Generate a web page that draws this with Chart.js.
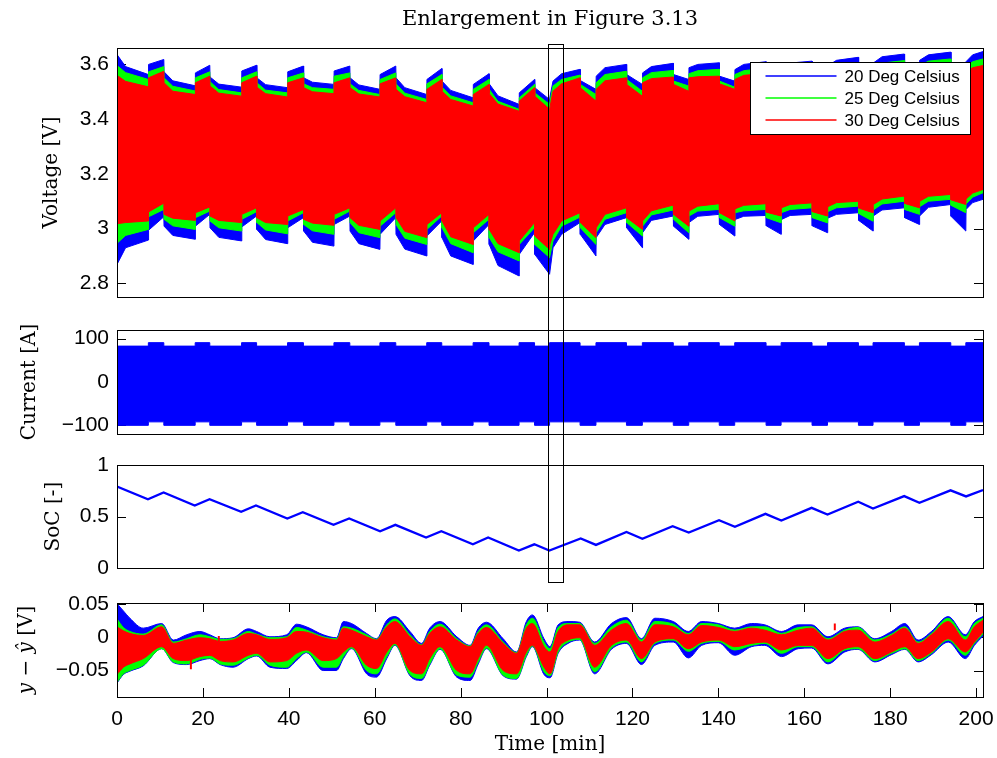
<!DOCTYPE html>
<html>
<head>
<meta charset="utf-8">
<script src="https://cdn.jsdelivr.net/npm/chart.js@4.4.1/dist/chart.umd.min.js"></script>
<style>
  html, body { margin: 0; padding: 0; background: #fff; }
  body { width: 997px; height: 758px; position: relative; overflow: hidden; }
  canvas { position: absolute; left: 0; }
</style>
</head>
<body>
<canvas id="volt" width="997" height="300" style="top:0px"></canvas>
<canvas id="curr" width="997" height="124" style="top:316px"></canvas>
<canvas id="soc" width="997" height="131" style="top:451px"></canvas>
<canvas id="err" width="997" height="169" style="top:589px"></canvas>
<canvas id="overlay" width="997" height="758" style="top:0px; pointer-events:none"></canvas>
<script>
const BLUE = '#0000ff', GREEN = '#00ff00', RED = '#ff0000';
const SANS = '"Liberation Sans", Arial, sans-serif';
const SERIF = '"DejaVu Serif", serif';

// ---- axis ticks / labels ----
const timeTicks = [0, 20, 40, 60, 80, 100, 120, 140, 160, 180, 200];
const timeTickLabels = ['0', '20', '40', '60', '80', '100', '120', '140', '160', '180', '200'];
const voltTicks = [2.8, 3, 3.2, 3.4, 3.6];
const voltTickLabels = ['2.8', '3', '3.2', '3.4', '3.6'];
const currTicks = [-100, 0, 100];
const currTickLabels = ['\u2212100', '0', '100'];
const socTicks = [0, 0.5, 1];
const socTickLabels = ['0', '0.5', '1'];
const errTicks = [-0.05, 0, 0.05];
const errTickLabels = ['\u22120.05', '0', '0.05'];
const seriesNames = ['20 Deg Celsius', '25 Deg Celsius', '30 Deg Celsius'];
const enlargeFrom = 100.3, enlargeTo = 103.8;   // min, the boxed window

// ---- voltage envelopes (top / bottom of the fast oscillation) ----
const voltTime = [
  0, 2, 7.3,   7.35, 10.9,   10.95, 13, 18.2,   18.25, 21.6,
  21.65, 23.7, 29.0,   29.05, 32.5,   32.55, 34.6, 39.7,   39.75, 43.4,
  43.45, 45.5, 50.5,   50.55, 54.2,   54.25, 56.3, 61.2,   61.25, 64.9,
  64.95, 67, 72.1,   72.15, 75.6,   75.65, 77.7, 82.9,   82.95, 86.6,
  86.65, 88.7, 93.6,   93.65, 97.2,   97.25, 100.7,
  100.75, 101.5, 103.5, 107.8,   107.85, 111.5,
  111.55, 113.6, 118.6,   118.65, 122.3,   122.35, 124.4, 129.5,   129.55, 133.1,
  133.15, 135.2, 140.2,   140.25, 143.8,   143.85, 145.9, 151.1,   151.15, 154.6,
  154.65, 156.7, 161.8,   161.85, 165.4,   165.45, 167.5, 172.6,   172.65, 176.0,
  176.05, 178.1, 183.3,   183.35, 186.8,   186.85, 188.9, 194.1,   194.15, 197.6,
  197.65, 199.2, 201.6
];
const v20Top = [
  3.636, 3.592, 3.563,   3.600, 3.618,   3.573, 3.540, 3.522,   3.569, 3.597,
  3.554, 3.528, 3.517,   3.576, 3.597,   3.551, 3.526, 3.515,   3.573, 3.594,
  3.551, 3.535, 3.527,   3.576, 3.594,   3.551, 3.525, 3.509,   3.563, 3.594,
  3.551, 3.515, 3.490,   3.545, 3.585,   3.539, 3.505, 3.478,   3.527, 3.566,
  3.529, 3.485, 3.454,   3.496, 3.545,   3.515, 3.472,
  3.478, 3.539, 3.566, 3.582,   3.541, 3.509,
  3.557, 3.588, 3.600,   3.563, 3.527,   3.569, 3.592, 3.604,   3.563, 3.545,
  3.588, 3.600, 3.606,   3.557, 3.539,   3.581, 3.600, 3.610,   3.570, 3.552,
  3.590, 3.605, 3.612,   3.572, 3.555,   3.595, 3.615, 3.626,   3.585, 3.565,
  3.605, 3.628, 3.638,   3.595, 3.575,   3.615, 3.635, 3.645,   3.600, 3.580,
  3.610, 3.635, 3.647
];
const v25Top = [
  3.596, 3.570, 3.545,   3.573, 3.592,   3.551, 3.520, 3.503,   3.551, 3.573,
  3.537, 3.508, 3.496,   3.551, 3.573,   3.533, 3.506, 3.496,   3.551, 3.569,
  3.529, 3.515, 3.509,   3.557, 3.569,   3.529, 3.505, 3.490,   3.545, 3.569,
  3.529, 3.495, 3.472,   3.529, 3.563,   3.517, 3.485, 3.460,   3.509, 3.545,
  3.509, 3.465, 3.436,   3.478, 3.527,   3.496, 3.454,
  3.460, 3.521, 3.545, 3.561,   3.527, 3.490,
  3.533, 3.563, 3.575,   3.545, 3.502,   3.551, 3.570, 3.578,   3.539, 3.521,
  3.566, 3.577, 3.582,   3.539, 3.517,   3.563, 3.577, 3.587,   3.550, 3.532,
  3.570, 3.583, 3.590,   3.552, 3.535,   3.575, 3.592, 3.602,   3.565, 3.545,
  3.585, 3.605, 3.614,   3.575, 3.555,   3.595, 3.612, 3.620,   3.580, 3.560,
  3.590, 3.610, 3.620
];
const v30Top = [
  3.560, 3.538, 3.518,   3.551, 3.575,   3.533, 3.502, 3.490,   3.533, 3.557,
  3.521, 3.495, 3.484,   3.533, 3.557,   3.517, 3.493, 3.481,   3.533, 3.551,
  3.515, 3.500, 3.493,   3.533, 3.551,   3.515, 3.492, 3.481,   3.529, 3.551,
  3.509, 3.482, 3.460,   3.509, 3.545,   3.502, 3.472, 3.448,   3.490, 3.527,
  3.493, 3.455, 3.429,   3.466, 3.515,   3.484, 3.436,
  3.436, 3.502, 3.529, 3.551,   3.515, 3.466,
  3.509, 3.540, 3.551,   3.527, 3.484,   3.533, 3.548, 3.554,   3.527, 3.502,
  3.551, 3.555, 3.557,   3.529, 3.509,   3.545, 3.560, 3.567,   3.532, 3.515,
  3.552, 3.565, 3.572,   3.535, 3.518,   3.558, 3.575, 3.582,   3.548, 3.528,
  3.566, 3.585, 3.592,   3.556, 3.538,   3.575, 3.590, 3.597,   3.562, 3.545,
  3.570, 3.588, 3.596
];
const v30Bot = [
  3.018, 3.022, 3.028,   3.061, 3.093,   3.052, 3.038, 3.030,   3.058, 3.079,
  3.046, 3.030, 3.022,   3.052, 3.076,   3.040, 3.022, 3.015,   3.046, 3.070,
  3.034, 3.020, 3.012,   3.052, 3.076,   3.040, 3.012, 2.997,   3.028, 3.076,
  3.040, 2.990, 2.967,   3.015, 3.058,   3.028, 2.970, 2.942,   3.003, 3.052,
  2.997, 2.945, 2.912,   2.955, 3.022,   2.973, 2.924,
  2.942, 2.979, 3.028, 3.058,   3.022, 2.967,
  3.003, 3.052, 3.076,   3.040, 2.997,   3.028, 3.065, 3.086,   3.052, 3.009,
  3.064, 3.082, 3.091,   3.058, 3.028,   3.072, 3.085, 3.091,   3.060, 3.046,
  3.076, 3.088, 3.094,   3.062, 3.046,   3.080, 3.095, 3.100,   3.075, 3.058,
  3.088, 3.108, 3.119,   3.092, 3.076,   3.100, 3.118, 3.125,   3.105, 3.088,
  3.108, 3.130, 3.143
];
const v25Bot = [
  2.946, 2.975, 2.997,   3.043, 3.070,   3.034, 3.010, 2.997,   3.040, 3.064,
  3.028, 3.003, 2.991,   3.034, 3.062,   3.022, 2.995, 2.981,   3.028, 3.058,
  3.015, 2.992, 2.979,   3.034, 3.064,   3.022, 2.985, 2.967,   3.009, 3.058,
  3.015, 2.965, 2.942,   2.997, 3.046,   3.003, 2.945, 2.912,   2.985, 3.034,
  2.967, 2.915, 2.882,   2.942, 3.003,   2.942, 2.894,
  2.894, 2.955, 3.009, 3.042,   3.003, 2.942,
  2.985, 3.034, 3.058,   3.022, 2.973,   3.009, 3.050, 3.068,   3.034, 2.985,
  3.046, 3.064, 3.070,   3.040, 3.009,   3.058, 3.065, 3.070,   3.040, 3.021,
  3.058, 3.070, 3.076,   3.040, 3.021,   3.062, 3.076, 3.082,   3.055, 3.027,
  3.068, 3.090, 3.100,   3.070, 3.052,   3.080, 3.100, 3.107,   3.085, 3.058,
  3.090, 3.115, 3.131
];
const v20Bot = [
  2.869, 2.930, 2.958,   2.994, 3.043,   3.009, 2.975, 2.961,   3.009, 3.052,
  3.003, 2.968, 2.955,   3.006, 3.046,   2.997, 2.960, 2.945,   3.003, 3.040,
  2.991, 2.950, 2.936,   3.015, 3.046,   2.991, 2.945, 2.924,   2.979, 3.040,
  2.979, 2.925, 2.900,   2.973, 3.028,   2.967, 2.900, 2.869,   2.955, 3.015,
  2.942, 2.865, 2.827,   2.906, 2.985,   2.906, 2.833,
  2.833, 2.930, 2.979, 3.022,   2.979, 2.900,
  2.967, 3.015, 3.040,   3.003, 2.930,   2.985, 3.030, 3.046,   3.009, 2.961,
  3.022, 3.045, 3.052,   3.015, 2.973,   3.033, 3.045, 3.048,   3.010, 2.979,
  3.033, 3.048, 3.052,   3.010, 2.985,   3.038, 3.052, 3.058,   3.030, 2.991,
  3.046, 3.068, 3.076,   3.040, 3.015,   3.046, 3.078, 3.088,   3.045, 2.991,
  3.070, 3.095, 3.107
];

// ---- current envelope, held until the next time ----
const currTime = [0, 7.3, 10.9, 18.2, 21.6, 29.0, 32.5, 39.7, 43.4, 50.5, 54.2, 61.2, 64.9,
  72.1, 75.6, 82.9, 86.6, 93.6, 97.2, 100.7, 107.8, 111.5, 118.6, 122.3, 129.5, 133.1,
  140.2, 143.8, 151.1, 154.6, 161.8, 165.4, 172.6, 176.0, 183.3, 186.8, 194.1, 197.6, 201.6];
const currHigh = [82.8, 90.8, 82.8, 90.8, 82.8, 90.8, 82.8, 90.8, 82.8, 90.8, 82.8, 90.8, 82.8,
  90.8, 82.8, 90.8, 82.8, 90.8, 82.8, 90.8, 82.8, 90.8, 82.8, 90.8, 82.8, 90.8,
  82.8, 90.8, 82.8, 90.8, 82.8, 90.8, 82.8, 90.8, 82.8, 90.8, 82.8, 90.8, 90.8];
const currLow = [-100, -92, -100, -92, -100, -92, -100, -92, -100, -92, -100, -92, -100,
  -92, -100, -92, -100, -92, -100, -92, -100, -92, -100, -92, -100, -92,
  -100, -92, -100, -92, -100, -92, -100, -92, -100, -92, -100, -92, -92];

// ---- state of charge ----
const socTime = [0, 7.2, 10.85, 18.1, 21.55, 28.9, 32.35, 39.65, 43.25, 50.4, 54.05, 61.25, 64.8,
  71.95, 75.5, 82.85, 86.4, 93.55, 97.15, 100.65, 107.95, 111.5, 118.6, 122.3, 129.35, 133.1,
  140.15, 143.85, 150.95, 154.65, 161.7, 165.4, 172.55, 176.0, 183.25, 186.8, 194.05, 197.65, 201.6];
const socValue = [0.79, 0.668, 0.734, 0.607, 0.668, 0.545, 0.607, 0.481, 0.542, 0.419, 0.481, 0.357, 0.419,
  0.296, 0.357, 0.231, 0.296, 0.17, 0.23, 0.17, 0.286, 0.224, 0.35, 0.283, 0.406, 0.345,
  0.464, 0.4, 0.526, 0.461, 0.584, 0.52, 0.643, 0.578, 0.698, 0.633, 0.754, 0.695, 0.757];

// ---- model error envelopes ----
const errTime = [0, 1.5, 3, 6.1, 10.4, 13.1, 16.2, 19.3, 21.6, 24,
  27, 30.6, 32.5, 35.6, 39.5, 41.8, 44.1, 48, 51.1, 52.7,
  54.6, 58.1, 60.4, 62.8, 64.7, 68.2, 70.9, 72.8, 75.2, 79.1,
  82.2, 84.1, 86.0, 89.9, 93.0, 95.3, 96.7, 99.4, 100.8, 102.7,
  105, 107.7, 111.2, 115.1, 118.6, 122.1, 125.2, 129.5, 133.0, 136.1,
  140.0, 143.8, 147.7, 150.8, 154.7, 158.6, 161.7, 165.5, 169.4, 172.5,
  176.4, 180.3, 183.4, 186.5, 189.6, 193.5, 197.5, 199.6, 201.6];
const e20Top = [0.051, 0.040, 0.029, 0.014, 0.021, -0.004, 0.004, 0.009, 0.004, -0.002,
  -0.0005, 0.013, 0.009, 0.001, 0.004, 0.020, 0.016, 0.004, -0.0005, 0.024,
  0.021, 0.006, -0.002, 0.026, 0.0315, 0.009, -0.009, 0.014, 0.024, 0.001,
  -0.012, 0.014, 0.023, -0.002, -0.022, 0.024, 0.034, -0.002, -0.014, 0.019,
  0.024, 0.023, -0.007, 0.021, 0.030, -0.002, 0.029, 0.024, 0.009, 0.024,
  0.021, 0.014, 0.021, 0.019, 0.009, 0.019, 0.019, 0.001, 0.014, 0.016,
  -0.002, 0.009, 0.021, -0.004, 0.009, 0.0315, 0.004, 0.024, 0.0315];
const e25Top = [0.028, 0.015, 0.009, 0.005, 0.019, -0.007, -0.002, 0.004, 0.001, -0.003,
  -0.002, 0.009, 0.005, -0.0005, 0.001, 0.015, 0.011, 0.001, -0.002, 0.016,
  0.014, 0.004, -0.003, 0.019, 0.028, 0.004, -0.011, 0.009, 0.020, -0.002,
  -0.013, 0.009, 0.019, -0.007, -0.023, 0.019, 0.029, -0.007, -0.017, 0.015,
  0.021, 0.021, -0.009, 0.016, 0.026, -0.004, 0.024, 0.020, 0.006, 0.021,
  0.019, 0.011, 0.016, 0.016, 0.006, 0.015, 0.016, -0.002, 0.011, 0.015,
  -0.004, 0.005, 0.016, -0.007, 0.006, 0.029, 0.001, 0.021, 0.029];
const e30Top = [0.016, 0.010, 0.006, 0.003, 0.016, -0.009, -0.004, -0.0005, -0.002, -0.006,
  -0.004, 0.006, 0.004, -0.003, -0.0005, 0.009, 0.008, -0.0005, -0.004, 0.014,
  0.011, 0.001, -0.004, 0.016, 0.024, 0.001, -0.012, 0.006, 0.016, -0.004,
  -0.014, 0.006, 0.015, -0.009, -0.024, 0.014, 0.021, -0.014, -0.022, 0.009,
  0.019, 0.019, -0.012, 0.011, 0.021, -0.007, 0.019, 0.016, 0.004, 0.018,
  0.015, 0.009, 0.014, 0.011, 0.004, 0.011, 0.014, -0.004, 0.009, 0.011,
  -0.007, 0.003, 0.014, -0.009, 0.004, 0.024, -0.004, 0.016, 0.026];
const e30Bot = [-0.056, -0.045, -0.040, -0.032, -0.014, -0.032, -0.035, -0.029, -0.027, -0.035,
  -0.037, -0.027, -0.024, -0.037, -0.035, -0.024, -0.019, -0.035, -0.032, -0.022,
  -0.014, -0.042, -0.047, -0.022, -0.009, -0.050, -0.055, -0.032, -0.014, -0.050,
  -0.055, -0.032, -0.012, -0.050, -0.055, -0.022, -0.012, -0.045, -0.055, -0.017,
  -0.004, -0.0005, -0.045, -0.012, -0.004, -0.032, -0.007, -0.002, -0.017, -0.007,
  -0.004, -0.014, -0.009, -0.007, -0.019, -0.012, -0.012, -0.032, -0.017, -0.014,
  -0.032, -0.022, -0.014, -0.032, -0.022, -0.002, -0.022, -0.007, 0.008];
const e25Bot = [-0.068, -0.055, -0.050, -0.042, -0.017, -0.037, -0.040, -0.033, -0.031, -0.040,
  -0.042, -0.031, -0.027, -0.042, -0.045, -0.032, -0.022, -0.045, -0.045, -0.029,
  -0.016, -0.050, -0.055, -0.029, -0.011, -0.056, -0.062, -0.040, -0.017, -0.057,
  -0.060, -0.037, -0.016, -0.057, -0.062, -0.027, -0.013, -0.052, -0.058, -0.022,
  -0.007, -0.003, -0.052, -0.016, -0.007, -0.037, -0.009, -0.004, -0.021, -0.009,
  -0.006, -0.019, -0.012, -0.009, -0.024, -0.014, -0.014, -0.037, -0.019, -0.017,
  -0.035, -0.024, -0.017, -0.035, -0.024, -0.004, -0.027, -0.009, 0.005];
const e20Bot = [-0.069, -0.056, -0.051, -0.043, -0.017, -0.038, -0.041, -0.035, -0.032, -0.041,
  -0.045, -0.032, -0.028, -0.045, -0.047, -0.035, -0.023, -0.050, -0.050, -0.032,
  -0.017, -0.055, -0.060, -0.032, -0.012, -0.058, -0.065, -0.042, -0.018, -0.060,
  -0.065, -0.040, -0.017, -0.058, -0.063, -0.029, -0.014, -0.056, -0.061, -0.024,
  -0.009, -0.004, -0.055, -0.018, -0.009, -0.041, -0.012, -0.007, -0.031, -0.012,
  -0.008, -0.027, -0.014, -0.012, -0.029, -0.017, -0.016, -0.040, -0.022, -0.018,
  -0.037, -0.026, -0.018, -0.037, -0.026, -0.007, -0.032, -0.012, 0.002];
// single red outliers
const errSpikeTime = [17.2, 23.7, 167.1];
const errSpikeFrom = [-0.033, -0.006, 0.011];
const errSpikeTo = [-0.048, 0.002, 0.021];

// ---------------------------------------------------------------
function pts(xs, ys) { return xs.map((x, i) => ({x: x, y: ys[i]})); }

function band(label, xs, top, bot, color, order, extra) {
  const base = {label: label, borderColor: color, backgroundColor: color, borderWidth: 1,
    pointRadius: 0, order: order};
  return [
    Object.assign({}, base, {data: pts(xs, top), fill: false}, extra),
    Object.assign({}, base, {data: pts(xs, bot), fill: '-1'}, extra)
  ];
}

function spikeData() {
  const out = [];
  errSpikeTime.forEach((t, i) => {
    out.push({x: t, y: errSpikeFrom[i]}, {x: t, y: errSpikeTo[i]}, {x: t + 0.01, y: null});
  });
  return out;
}

const smooth = {cubicInterpolationMode: 'monotone'};

const decor = {
  volt: {title: 'Enlargement in Figure 3.13', yTitle: [['Voltage [V]', false]], titleX: 52, legend: true},
  curr: {yTitle: [['Current [A]', false]], titleX: 30},
  soc: {yTitle: [['SoC [-]', false]], titleX: 54},
  err: {yTitle: [['y', true], [' \u2212 ', false], ['\u0177', true], [' [V]', false]], titleX: 27, xTicks: true}
};

function drawLegend(ctx, a) {
  const w = 220, h = 72;
  const left = Math.round(a.right - 233) + 0.5, top = Math.round(a.top + 14) + 0.5;
  ctx.fillStyle = '#fff';
  ctx.fillRect(left, top, w, h);
  ctx.strokeStyle = '#000';
  ctx.lineWidth = 1;
  ctx.strokeRect(left, top, w, h);
  const colors = [BLUE, GREEN, RED];
  ctx.font = '17px ' + SANS;
  ctx.textBaseline = 'middle';
  ctx.textAlign = 'left';
  seriesNames.forEach((name, i) => {
    const y = top + 13.5 + i * 22;
    ctx.strokeStyle = colors[i];
    ctx.lineWidth = 1.5;
    ctx.beginPath();
    ctx.moveTo(left + 15, y);
    ctx.lineTo(left + 86, y);
    ctx.stroke();
    ctx.fillStyle = '#000';
    ctx.fillText(name, left + 94, y + 1);
  });
}

const panelDecor = {
  id: 'panelDecor',
  beforeDatasetsDraw(chart) {
    const cfg = decor[chart.canvas.id];
    const {ctx, chartArea: a, scales} = chart;
    ctx.save();
    ctx.strokeStyle = '#000';
    ctx.lineWidth = 1;
    ctx.beginPath();
    scales.y.ticks.forEach(t => {
      const y = Math.round(scales.y.getPixelForValue(t.value)) + 0.5;
      ctx.moveTo(a.left, y); ctx.lineTo(a.left + 9, y);
      ctx.moveTo(a.right, y); ctx.lineTo(a.right - 9, y);
    });
    if (cfg.xTicks) {
      scales.x.ticks.forEach(t => {
        const x = Math.round(scales.x.getPixelForValue(t.value)) + 0.5;
        ctx.moveTo(x, a.top); ctx.lineTo(x, a.top + 9);
        ctx.moveTo(x, a.bottom); ctx.lineTo(x, a.bottom - 9);
      });
    }
    ctx.stroke();
    ctx.restore();
  },
  afterDatasetsDraw(chart) {
    const cfg = decor[chart.canvas.id];
    const {ctx, chartArea: a} = chart;
    ctx.save();
    ctx.strokeStyle = '#000';
    ctx.lineWidth = 1;
    ctx.strokeRect(Math.round(a.left) + 0.5, Math.round(a.top) + 0.5,
      Math.round(a.right - a.left), Math.round(a.bottom - a.top));
    if (cfg.legend) drawLegend(ctx, a);
    ctx.restore();
  },
  afterDraw(chart) {
    const cfg = decor[chart.canvas.id];
    const {ctx, chartArea: a} = chart;
    ctx.save();
    ctx.fillStyle = '#000';
    if (cfg.title) {
      ctx.font = '21px ' + SERIF;
      ctx.textAlign = 'center';
      ctx.textBaseline = 'middle';
      ctx.fillText(cfg.title, (a.left + a.right) / 2, 20);
    }
    // rotated y title, parts may be italic
    const fontOf = p => (p[1] ? 'italic ' : '') + '20px ' + SERIF;
    let total = 0;
    cfg.yTitle.forEach(p => { ctx.font = fontOf(p); total += ctx.measureText(p[0]).width; });
    ctx.translate(cfg.titleX, (a.top + a.bottom) / 2);
    ctx.rotate(-Math.PI / 2);
    ctx.textAlign = 'left';
    ctx.textBaseline = 'middle';
    let x = -total / 2;
    cfg.yTitle.forEach(p => {
      ctx.font = fontOf(p);
      ctx.fillText(p[0], x, 0);
      x += ctx.measureText(p[0]).width;
    });
    ctx.restore();
  }
};

function yAxis(min, max, ticks, labels) {
  return {
    type: 'linear', min: min, max: max,
    afterFit: s => { s.width = 117; s.paddingTop = 0; s.paddingBottom = 0; },
    afterBuildTicks: s => { s.ticks = ticks.map(v => ({value: v})); },
    grid: {display: false, drawTicks: false},
    border: {display: false},
    ticks: {padding: 8, autoSkip: false, color: '#000', font: {size: 21, family: SANS},
      callback: (v, i) => labels[i]}
  };
}

const hiddenX = {type: 'linear', min: 0, max: 201.6, display: false};

function makeChart(id, datasets, y, x, padTop, padBottom) {
  return new Chart(document.getElementById(id), {
    type: 'line',
    data: {datasets: datasets},
    options: {
      responsive: false,
      animation: false,
      devicePixelRatio: 1,
      layout: {padding: {left: 0, right: 14, top: padTop, bottom: padBottom}},
      elements: {point: {radius: 0}, line: {tension: 0}},
      scales: {x: x, y: y},
      plugins: {legend: {display: false}, tooltip: {enabled: false}, title: {display: false}}
    },
    plugins: [panelDecor]
  });
}

const voltChart = makeChart('volt', [
  ...band(seriesNames[0], voltTime, v20Top, v20Bot, BLUE, 3),
  ...band(seriesNames[1], voltTime, v25Top, v25Bot, GREEN, 2),
  ...band(seriesNames[2], voltTime, v30Top, v30Bot, RED, 1)
], yAxis(2.75, 3.66, voltTicks, voltTickLabels), hiddenX, 48, 3);

const currChart = makeChart('curr',
  band('Current', currTime, currHigh, currLow, BLUE, 1, {stepped: true}),
  yAxis(-120, 120, currTicks, currTickLabels), hiddenX, 14, 6);

const socChart = makeChart('soc', [{
  label: 'SoC', data: pts(socTime, socValue), borderColor: BLUE, borderWidth: 2.3,
  pointRadius: 0, fill: false
}], yAxis(0, 1, socTicks, socTickLabels), hiddenX, 14, 14);

const errChart = makeChart('err', [
  ...band(seriesNames[0], errTime, e20Top, e20Bot, BLUE, 4, smooth),
  ...band(seriesNames[1], errTime, e25Top, e25Bot, GREEN, 3, smooth),
  ...band(seriesNames[2], errTime, e30Top, e30Bot, RED, 2, smooth),
  {label: 'outliers', data: spikeData(), borderColor: RED, borderWidth: 2, pointRadius: 0,
    fill: false, spanGaps: false, order: 1}
], yAxis(-0.09, 0.052, errTicks, errTickLabels), {
  type: 'linear', min: 0, max: 201.6,
  afterFit: s => { s.height = 61; s.paddingLeft = 0; s.paddingRight = 0; },
  afterBuildTicks: s => { s.ticks = timeTicks.map(v => ({value: v})); },
  grid: {display: false, drawTicks: false},
  border: {display: false},
  ticks: {padding: 10, autoSkip: false, maxRotation: 0, color: '#000',
    font: {size: 21, family: SANS}, callback: (v, i) => timeTickLabels[i]},
  title: {display: true, text: 'Time [min]', color: '#000',
    font: {size: 20, family: SERIF}, padding: {top: 0, bottom: 1}}
}, 14, 0);

// boxed window spanning the upper three panels
(function drawEnlargeBox() {
  const ov = document.getElementById('overlay').getContext('2d');
  const xs = voltChart.scales.x;
  const x0 = Math.round(xs.getPixelForValue(enlargeFrom)) + 0.5;
  const x1 = Math.round(xs.getPixelForValue(enlargeTo)) + 0.5;
  const y0 = Math.round(voltChart.canvas.offsetTop + voltChart.chartArea.top - 4) + 0.5;
  const y1 = Math.round(socChart.canvas.offsetTop + socChart.chartArea.bottom + 14) + 0.5;
  ov.strokeStyle = '#000';
  ov.lineWidth = 1;
  ov.strokeRect(x0, y0, x1 - x0, y1 - y0);
})();
</script>
</body>
</html>
